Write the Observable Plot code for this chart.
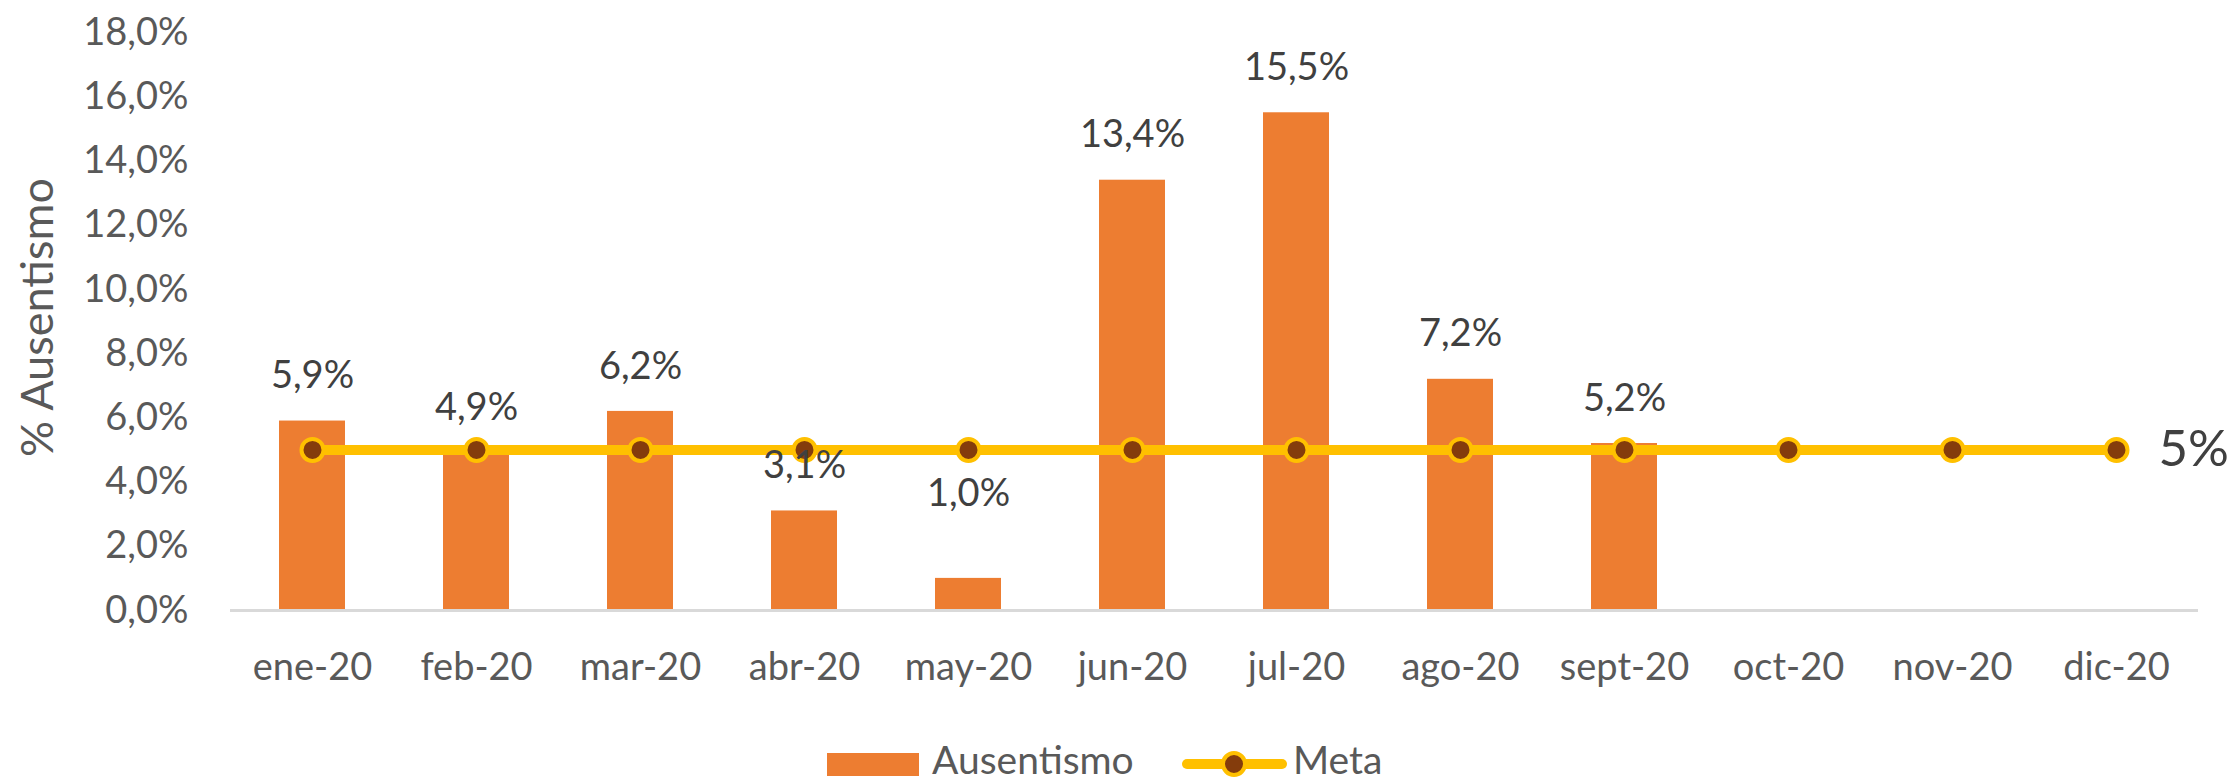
<!DOCTYPE html>
<html>
<head>
<meta charset="utf-8">
<script src="https://cdn.jsdelivr.net/npm/d3@7"></script>
<script src="https://cdn.jsdelivr.net/npm/@observablehq/plot@0.6"></script>
<style>
  html, body { margin: 0; padding: 0; background: #fff; overflow: hidden; }
  #chart { width: 2234px; height: 730px; }
  #legend { position: relative; width: 2234px; height: 51px; font-family: Lato, "Noto Sans", sans-serif; font-size: 39px; color: #595959; }
  .sw-bar { position: absolute; left: 827px; top: 23px; width: 92px; height: 23px; background: #ED7D31; }
  .lg-t1 { position: absolute; left: 932px; top: 9px; line-height: 40px; }
  .sw-line { position: absolute; left: 1182px; top: 29px; width: 105px; height: 10px; background: #FFC000; border-radius: 5px; }
  .sw-dot { position: absolute; left: 39px; top: -8px; width: 18px; height: 18px; border-radius: 50%; background: #843C0C; border: 4px solid #FFC000; }
  .lg-t2 { position: absolute; left: 1293px; top: 9px; line-height: 40px; }
</style>
</head>
<body>
<div id="chart"></div>
<div id="legend">
  <div class="sw-bar"></div><div class="lg-t1">Ausentismo</div>
  <div class="sw-line"><div class="sw-dot"></div></div><div class="lg-t2">Meta</div>
</div>
<script>
const months = ["ene-20","feb-20","mar-20","abr-20","may-20","jun-20","jul-20","ago-20","sept-20","oct-20","nov-20","dic-20"];
const ausentismo = [0.059, 0.049, 0.062, 0.031, 0.010, 0.134, 0.155, 0.072, 0.052, null, null, null];
const meta = [0.05, 0.05, 0.05, 0.05, 0.05, 0.05, 0.05, 0.05, 0.05, 0.05, 0.05, 0.05];
const yTicks = [0, 0.02, 0.04, 0.06, 0.08, 0.10, 0.12, 0.14, 0.16, 0.18];
const metaLabel = "5%";

const rows = months.map((m, i) => ({month: m, aus: ausentismo[i], meta: meta[i]}));
const bars = rows.filter(d => d.aus != null);
const fmt1 = v => (v * 100).toFixed(1).replace(".", ",") + "%";
const FONT = "Lato, 'Noto Sans', sans-serif";

const chart = Plot.plot({
  width: 2234,
  height: 730,
  marginLeft: 230,
  marginRight: 36,
  marginTop: 32,
  marginBottom: 120,
  style: {fontFamily: FONT, background: "#fff"},
  x: {domain: months, paddingInner: 0.6, paddingOuter: 0.3},
  y: {domain: [0, 0.18]},
  marks: [
    Plot.axisY({ticks: yTicks, tickSize: 0, tickPadding: 42, tickFormat: fmt1, fontSize: 38, fill: "#595959", label: null}),
    Plot.axisX({tickSize: 0, tickPadding: 43, fontSize: 38, fill: "#595959", label: null}),
    Plot.text(["% Ausentismo"], {frameAnchor: "left", textAnchor: "middle", rotate: -90, dx: -192, dy: -4, fontSize: 45, fill: "#595959"}),
    Plot.barY(bars, {x: "month", y: "aus", fill: "#ED7D31"}),
    Plot.ruleY([0], {stroke: "#D9D9D9", strokeWidth: 3}),
    Plot.line(rows, {x: "month", y: "meta", stroke: "#FFC000", strokeWidth: 10}),
    Plot.dot(rows, {x: "month", y: "meta", r: 11, fill: "#843C0C", stroke: "#FFC000", strokeWidth: 4}),
    Plot.text(bars, {x: "month", y: "aus", text: d => fmt1(d.aus), dy: -45, fontSize: 38, fill: "#404040",
      filter: d => d.month !== "may-20"}),
    Plot.text(bars, {x: "month", y: "aus", text: d => fmt1(d.aus), dy: -85, fontSize: 38, fill: "#404040",
      filter: d => d.month === "may-20"}),
    Plot.text(rows.slice(-1), {x: "month", y: "meta", text: () => metaLabel, textAnchor: "start", dx: 42, fontSize: 51, fill: "#404040"})
  ]
});
document.getElementById("chart").appendChild(chart);
</script>
</body>
</html>
